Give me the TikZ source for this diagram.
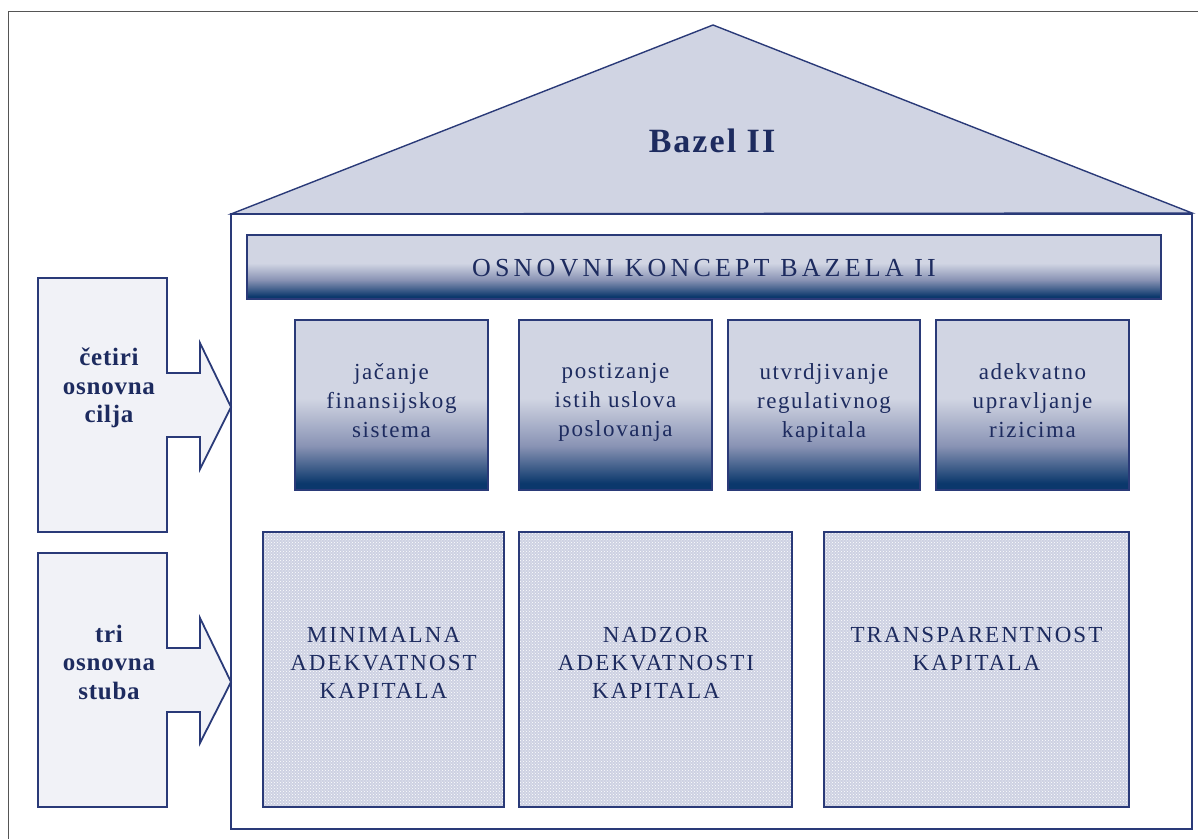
\documentclass[tikz,border=0pt]{standalone}
\usepackage{fontspec}
\setmainfont{Liberation Serif}
\newfontfamily\goallabel[LetterSpace=7]{Liberation Serif}
\newfontfamily\pillarlabel[LetterSpace=9]{Liberation Serif}
\newfontfamily\bandlabel[LetterSpace=16]{Liberation Serif}
\newfontfamily\boldlabel[LetterSpace=3]{Liberation Serif}
\newfontfamily\rooflabel[LetterSpace=6]{Liberation Serif}
\usetikzlibrary{patterns}

\definecolor{framegray}{HTML}{555555}
\definecolor{navyline}{HTML}{2A3A78}
\definecolor{navytext}{HTML}{1D2B5F}
\definecolor{rooffill}{HTML}{D0D4E3}
\definecolor{arrowfill}{HTML}{F1F2F7}
\definecolor{pillarfill}{HTML}{CDD1E2}
\definecolor{lightlav}{HTML}{D1D5E3}
\definecolor{midlav}{HTML}{8993B4}
\definecolor{deepnavy}{HTML}{0B386C}

% vertical shading: light upper half, deep navy towards the bottom edge
\pgfdeclareverticalshading{goalshade}{100bp}{%
  color(0bp)=(deepnavy); color(27bp)=(deepnavy); color(38bp)=(midlav);
  color(52bp)=(lightlav); color(100bp)=(lightlav)}
\pgfdeclareverticalshading{bandshade}{100bp}{%
  color(0bp)=(deepnavy); color(27bp)=(deepnavy); color(40bp)=(midlav);
  color(53bp)=(lightlav); color(100bp)=(lightlav)}

\tikzset{
  outline/.style={draw=navyline, line width=1.8pt, line join=miter},
  goalbox/.style={outline, shading=goalshade},
  bandbox/.style={outline, shading=bandshade},
  dotlayer/.style={pattern=crosshatch dots, pattern color=white},
  sidearrow/.style={outline, fill=arrowfill},
  goaltext/.style={text=navytext, align=center, anchor=north,
    font=\goallabel\fontsize{23}{29}\selectfont},
  pillartext/.style={text=navytext, align=center, anchor=north,
    font=\pillarlabel\fontsize{23}{28}\selectfont},
  sidetext/.style={text=navytext, align=center,
    font=\boldlabel\bfseries\fontsize{25}{28.5}\selectfont},
}

\begin{document}
\begin{tikzpicture}[x=1pt, y=-1pt]
\path[use as bounding box] (0,0) rectangle (1198,838);
\clip (0,0) rectangle (1198,838);

% page frame
\draw[framegray, line width=1.5pt] (8.5,860) -- (8.5,11.5) -- (1220,11.5);

% roof
\draw[navyline, line width=1.4pt, fill=rooffill, line join=miter]
  (231,214) -- (713,25) -- (1192,213) -- cycle;
\node[text=navytext, font=\rooflabel\bfseries\fontsize{34}{40}\selectfont]
  (roof) at (712,141) {Bazel II};

% house body
\draw[outline, fill=white] (231,214) rectangle (1192,829);

% band with the basic concept
\path[bandbox] (247,235) rectangle (1161,299);
\node[text=navytext, font=\bandlabel\fontsize{26}{30}\selectfont]
  (band) at (704,268) {OSNOVNI KONCEPT BAZELA II};

% four goals
\path[goalbox] (295,320) rectangle (488,490);
\path[goalbox] (519,320) rectangle (712,490);
\path[goalbox] (728,320) rectangle (920,490);
\path[goalbox] (936,320) rectangle (1129,490);
\node[goaltext] (g1) at (391.5,360) {jačanje\\finansijskog\\sistema};
\node[goaltext] (g2) at (615.5,360) {postizanje\\istih uslova\\poslovanja};
\node[goaltext] (g3) at (824,360) {utvrdjivanje\\regulativnog\\kapitala};
\node[goaltext] (g4) at (1032.5,360) {adekvatno\\upravljanje\\rizicima};

% three pillars
\foreach \xa/\xb in {263/504, 519/792, 824/1129}{
  \path[fill=pillarfill] (\xa,532) rectangle (\xb,807);
  \path[dotlayer] (\xa,532) rectangle (\xb,807);
  \draw[outline] (\xa,532) rectangle (\xb,807);
}
\node[pillartext] (p1) at (383.5,624) {MINIMALNA\\ADEKVATNOST\\KAPITALA};
\node[pillartext] (p2) at (656,624) {NADZOR\\ADEKVATNOSTI\\KAPITALA};
\node[pillartext] (p3) at (976.5,624) {TRANSPARENTNOST\\KAPITALA};

% side arrows
\draw[sidearrow] (38,278) -- (167,278) -- (167,373) -- (200,373) -- (200,343)
  -- (231,407) -- (200,469) -- (200,437) -- (167,437) -- (167,532)
  -- (38,532) -- cycle;
\draw[sidearrow] (38,553) -- (167,553) -- (167,648) -- (200,648) -- (200,618)
  -- (231,682) -- (200,743) -- (200,712) -- (167,712) -- (167,807)
  -- (38,807) -- cycle;
\node[sidetext] (a1) at (109,388) {četiri\\osnovna\\cilja};
\node[sidetext] (a2) at (109,662) {tri\\osnovna\\stuba};
\end{tikzpicture}
\end{document}
